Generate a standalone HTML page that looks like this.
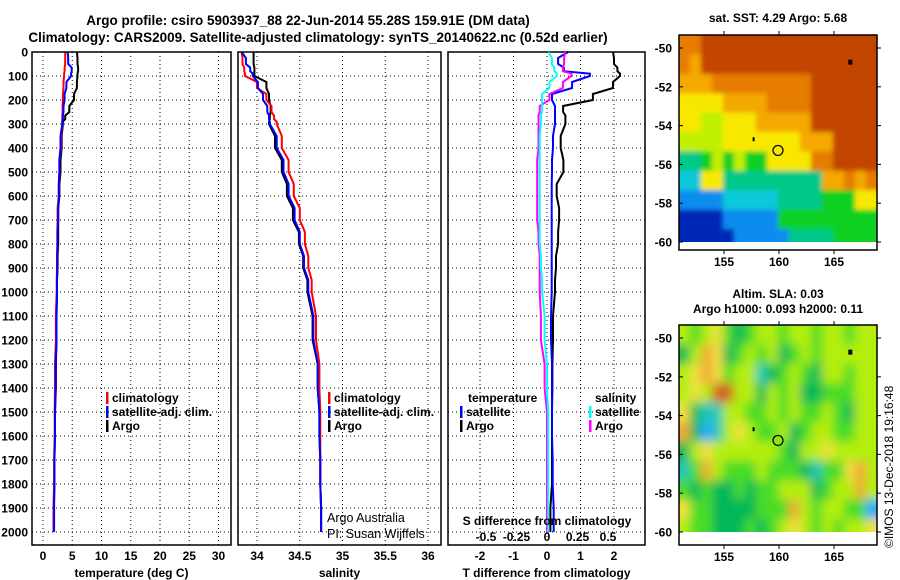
<!DOCTYPE html>
<html><head><meta charset="utf-8">
<style>
html,body{margin:0;padding:0;background:#fff;}
svg{display:block;font-family:"Liberation Sans",Arial,sans-serif;}
.b{font-weight:bold;font-size:12px;}
.t{font-weight:bold;font-size:13.5px;}
</style></head>
<body>
<svg id="fig" width="900" height="580" viewBox="0 0 900 580" xmlns="http://www.w3.org/2000/svg">
<text class="t" x="308" y="25" text-anchor="middle">Argo profile: csiro 5903937_88 22-Jun-2014 55.28S 159.91E (DM data)</text>
<text class="t" x="318" y="42" text-anchor="middle">Climatology: CARS2009. Satellite-adjusted climatology: synTS_20140622.nc (0.52d earlier)</text>
<text class="b" x="778" y="22" text-anchor="middle">sat. SST: 4.29 Argo: 5.68</text>
<text class="b" x="778" y="298" text-anchor="middle">Altim. SLA: 0.03</text>
<text class="b" x="778" y="313" text-anchor="middle">Argo h1000: 0.093 h2000: 0.11</text>
<text x="893" y="548" font-size="12" transform="rotate(-90 893 548)">©IMOS 13-Dec-2018 19:16:48</text>
<g id="layer"></g>
</svg>
<script>
// ---- profile data ----
const depths = [0,50,80,100,150,200,250,280,300,400,500,600,700,800,900,1000,1200,1400,1600,1800,2000];
const tClim = [3.8,3.8,3.7,3.6,3.5,3.4,3.35,3.3,3.3,3.1,2.8,2.7,2.5,2.45,2.4,2.35,2.2,2.05,2.0,1.9,1.8];
const tSat  = [4.2,4.3,4.9,4.8,4.0,3.7,3.5,3.4,3.3,3.0,2.8,2.7,2.6,2.5,2.45,2.4,2.3,2.15,2.05,1.95,1.9];
const tArgo = [5.8,5.9,6.0,5.9,5.8,5.3,4.5,3.8,3.4,3.2,3.0,2.8,2.6,2.6,2.5,2.4,2.3,2.2,2.05,1.95,1.85];
const sClim = [33.82,33.83,33.85,33.86,34.0,34.11,34.17,34.2,34.23,34.29,34.37,34.43,34.5,34.56,34.6,34.64,34.69,34.73,34.74,34.74,34.75];
const sSat  = [33.82,33.87,33.92,33.95,34.01,34.07,34.12,34.14,34.15,34.23,34.31,34.37,34.44,34.5,34.55,34.6,34.66,34.71,34.73,34.74,34.75];
const sArgo = [33.96,33.96,33.97,33.97,34.11,34.14,34.16,34.15,34.14,34.21,34.29,34.35,34.42,34.49,34.54,34.59,34.65,34.71,34.73,34.74,34.75];
const dTSat  = [0.63,0.33,0.5,1.28,0.75,0.15,0.24,0.24,0.24,0.18,0.15,0.14,0.14,0.14,0.14,0.14,0.12,0.15,0.15,0.17,0.2];
const dTArgo = [1.97,2.0,2.1,2.18,1.97,1.37,0.48,0.55,0.55,0.41,0.49,0.29,0.36,0.33,0.27,0.24,0.18,0.16,0.15,0.15,0.1];
const dSSat  = [0.01,0.04,0.06,0.08,0.02,-0.04,-0.04,-0.05,-0.05,-0.06,-0.06,-0.06,-0.06,-0.06,-0.05,-0.04,-0.02,0.0,0.01,0.01,0.01];
const dSArgo = [0.15,0.14,0.13,0.2,0.13,0.02,-0.06,-0.07,-0.07,-0.07,-0.08,-0.08,-0.08,-0.07,-0.06,-0.06,-0.05,-0.02,0.0,0.0,0.0];
const depthTicks = [0,100,200,300,400,500,600,700,800,900,1000,1100,1200,1300,1400,1500,1600,1700,1800,1900,2000];
const tTicks = [0,5,10,15,20,25,30];
const sTicks = [34,34.5,35,35.5,36];
const sTickLabels = ["34","34.5","35","35.5","36"];
const dtTicks = [-2,-1,0,1,2];
const dsTicks = [-0.5,-0.25,0,0.25,0.5];
const dsTickLabels = ["-0.5","-0.25","0","0.25","0.5"];

// ---- map data (category grids, 1 deg cells, 151E..169E, 49.3S..60S) ----
const sstGrid = [
"889999999999999999",
"879999999999999999",
"777888888888999999",
"666677778888999999",
"665566677777999999",
"555566666667779999",
"334545446666889999",
"226633333333377878",
"111122222333344466",
"000011111444444444",
"000001111133334444"];
const sstColors = ["#0028b8","#0a8cf0","#10c8d8","#00c888","#10d020","#c0f000","#f8e800","#f4a800","#e67c00","#c24400"];
const slaGrid = [
[1,0,1,2,0,-1,0,1,1,0,1,1,0,1,1,0,1,1],
[-1,1,3,2,-1,0,1,0,1,-1,0,1,0,1,1,1,1,1],
[1,2,3,2,0,1,1,-2,-1,0,1,0,-1,1,1,0,1,1],
[1,2,1,4,4,1,1,-1,1,0,1,-1,-1,0,0,0,1,1],
[2,-1,-2,-2,1,1,0,0,1,0,1,0,0,1,0,-1,1,1],
[3,-1,-3,-2,1,2,1,0,0,1,-1,0,1,1,0,0,1,1],
[-1,1,2,1,1,1,1,1,1,0,-1,1,1,2,1,1,1,1],
[-2,0,3,1,0,0,0,1,0,0,0,-1,-2,0,0,2,3,1],
[0,-1,0,-1,-1,0,-1,0,0,1,1,1,-1,0,1,1,3,1],
[2,0,0,-1,-1,-1,-1,0,0,0,3,1,0,1,1,0,0,-3],
[1,0,0,-1,-1,-1,0,-1,0,1,2,1,0,1,0,1,1,2]];
const slaColors = {"-3":"#2aa8ff","-2":"#20c8b8","-1":"#00b858","0":"#48dc28","1":"#b4ee10","2":"#f0e040","3":"#f0a838","4":"#d46420"};
const argoLon = 159.91, argoLat = -55.28;
const latTicks = [-50,-52,-54,-56,-58,-60];
const lonTicks = [155,160,165];

const NS="http://www.w3.org/2000/svg";
const layer=document.getElementById('layer');
function mk(tag,attrs,parent){const e=document.createElementNS(NS,tag);for(const k in attrs)e.setAttribute(k,attrs[k]);(parent||layer).appendChild(e);return e;}

const Y0=52, PXD=0.24, YB=545;
const yD=d=>Y0+d*PXD;

function panel(name,x0,x1,xf,ticks,labels,xtitle,series){
  const g=mk('g',{});
  
  
  ticks.forEach((v,i)=>{const gl=mk('line',{x1:xf(v),x2:xf(v),y1:Y0,y2:YB,stroke:'#000','stroke-width':1,'stroke-dasharray':'1 3'},g);
    
    });
  depthTicks.forEach(d=>{const gl=mk('line',{x1:x0,x2:x1,y1:yD(d),y2:yD(d),stroke:'#000','stroke-width':1,'stroke-dasharray':'1 3'},g);
    
    });
  series.forEach(s=>{
    let pts=[];
    s.vals.forEach((v,i)=>{const x=xf(v).toFixed(1);if(i>0)pts.push(x+','+yD(depths[i-1]+(depths[i]-depths[i-1])*0.5).toFixed(1));pts.push(x+','+yD(depths[i]).toFixed(1));});
    const pl=mk('polyline',{points:pts.join(' '),fill:'none',stroke:s.color,'stroke-width':2},g);
    
    
  });
  const fr=mk('rect',{x:x0,y:Y0,width:x1-x0,height:YB-Y0,fill:'none',stroke:'#000','stroke-width':1.5},g);
  
  
  if(labels){ticks.forEach((v,i)=>{const t=mk('text',{x:xf(v),y:560,'text-anchor':'middle',class:'b'},g);t.textContent=labels[i];
    
    });}
  const tt=mk('text',{x:(x0+x1)/2,y:577,'text-anchor':'middle',class:'b'},g);tt.textContent=xtitle;
  
  
  return g;
}
depthTicks.forEach(d=>{const t=mk('text',{x:28,y:yD(d)+4.5,'text-anchor':'end',class:'b'});t.textContent=d;
  
  });

const xT=v=>43+5.85*v;
panel('temperature-panel',32,231,xT,tTicks,tTicks.map(String),'temperature (deg C)',[
 {vals:tArgo,color:'#000',name:'temp-argo-line'},{vals:tClim,color:'#f00',name:'temp-climatology-line'},{vals:tSat,color:'#00f',name:'temp-satellite-line'}]);
const xS=v=>257+85.5*(v-34);
panel('salinity-panel',238,441,xS,sTicks,sTickLabels,'salinity',[
 {vals:sArgo,color:'#000',name:'sal-argo-line'},{vals:sClim,color:'#f00',name:'sal-climatology-line'},{vals:sSat,color:'#00f',name:'sal-satellite-line'}]);
const xDT=v=>547+33.5*v, xDS=v=>547+122*v;
const p3=panel('difference-panel',448,645,xDT,dtTicks,dtTicks.map(String),'T difference from climatology',[
 {vals:dTArgo,color:'#000',name:'dT-argo-line'},{vals:dTSat,color:'#00f',name:'dT-satellite-line'}]);
[[dSArgo,'#f0f','dS-argo-line'],[dSSat,'#0ff','dS-satellite-line']].forEach(([arr,c,n])=>{
  let pts=[];arr.forEach((v,i)=>{const x=xDS(v).toFixed(1);if(i>0)pts.push(x+','+yD((depths[i-1]+depths[i])/2).toFixed(1));pts.push(x+','+yD(depths[i]).toFixed(1));});
  const pl=mk('polyline',{points:pts.join(' '),fill:'none',stroke:c,'stroke-width':2},p3);
  
  
});
dsTicks.forEach((v,i)=>{const t=mk('text',{x:xDS(v),y:541,'text-anchor':'middle',class:'b'});t.textContent=dsTickLabels[i];
  
  });
const sdt=mk('text',{x:547,y:525,'text-anchor':'middle',class:'b'});sdt.textContent='S difference from climatology';



function legendEntry(x,y,color,label){
  const g=mk('g',{});
  
  
  mk('rect',{x:x,y:y-10,width:2.5,height:12,fill:color},g);
  const t=mk('text',{x:x+6,y:y,class:'b'},g);t.textContent=label;
}
legendEntry(106,402,'#f00','climatology');legendEntry(106,416,'#00f','satellite-adj. clim.');legendEntry(106,430,'#000','Argo');
legendEntry(328,402,'#f00','climatology');legendEntry(328,416,'#00f','satellite-adj. clim.');legendEntry(328,430,'#000','Argo');
const lt1=mk('text',{x:468,y:402,class:'b'});lt1.textContent='temperature';


const lt2=mk('text',{x:595,y:402,class:'b'});lt2.textContent='salinity';


legendEntry(460,416,'#00f','satellite');legendEntry(460,430,'#000','Argo');
legendEntry(589,416,'#0ff','satellite');legendEntry(589,430,'#f0f','Argo');
const a1=mk('text',{x:327,y:522,'font-size':'12.5'});a1.textContent='Argo Australia';


const a2=mk('text',{x:327,y:538,'font-size':'12.5'});a2.textContent='PI: Susan Wijffels';



// ---- maps ----
const defs=mk('defs',{});
function drawMap(name,top,frameBottom,grid,colorOf,blurStd){
  const L=679,R=877;
  const xL=lon=>779+(lon-160)*11;
  const yL=lat=>top+13+(-50-lat)*19.4;
  const cid='clip-'+name;
  const cp=mk('clipPath',{id:cid},defs);
  mk('rect',{x:L,y:top,width:R-L,height:yL(-60)-top},cp);
  const fid='blur-'+name;
  const f=mk('filter',{id:fid,x:'-10%',y:'-10%',width:'120%',height:'120%'},defs);
  mk('feGaussianBlur',{stdDeviation:blurStd},f);
  const g=mk('g',{});
  
  
  const clipG=mk('g',{'clip-path':'url(#'+cid+')'},g);
  const inner=mk('g',{filter:'url(#'+fid+')'},clipG);
  const latTop=-50+13/19.4;
  const nr=grid.length, nc=grid[0].length;
  // padded drawing: edge cells extended outward so blur does not fade
  for(let r=-2;r<nr+2;r++){
    const rr=Math.min(Math.max(r,0),nr-1);
    const row=grid[rr];
    const y0=yL(latTop-r), y1=yL(latTop-r-1);
    for(let c=-2;c<nc+2;c++){
      const cc=Math.min(Math.max(c,0),nc-1);
      const v=row[cc];
      const x0=xL(151+c-0.1);
      const cell=mk('rect',{x:x0.toFixed(1),y:y0.toFixed(1),width:11.3,height:(y1-y0+0.3).toFixed(1),fill:colorOf(v)},inner);
      
      
    }
  }
  const fr=mk('rect',{x:L,y:top,width:R-L,height:frameBottom-top,fill:'none',stroke:'#000','stroke-width':1.5},g);
  
  
  latTicks.forEach(la=>{const y=yL(la);mk('line',{x1:L,x2:L+4,y1:y,y2:y,stroke:'#000'},g);mk('line',{x1:R,x2:R+4,y1:y,y2:y,stroke:'#000'},g);
    const t=mk('text',{x:672,y:y+4.5,'text-anchor':'end',class:'b'},g);t.textContent=la;
    
    });
  lonTicks.forEach(lo=>{const x=xL(lo);mk('line',{x1:x,x2:x,y1:top,y2:top-4,stroke:'#000'},g);mk('line',{x1:x,x2:x,y1:frameBottom,y2:frameBottom+4,stroke:'#000'},g);
    const t=mk('text',{x:x,y:frameBottom+16,'text-anchor':'middle',class:'b'},g);t.textContent=lo;
    
    });
  const ci=mk('circle',{cx:xL(argoLon),cy:yL(argoLat),r:5,fill:'none',stroke:'#000','stroke-width':1.2},g);
  
  
  mk('rect',{x:xL(157.6),y:yL(-54.6),width:2,height:4,fill:'#000'},g);
  mk('rect',{x:xL(166.3),y:yL(-50.6),width:4,height:5,fill:'#000'},g);
}
drawMap('sst-map',35,250,sstGrid,v=>sstColors[+v],2.5);
drawMap('sla-map',325,545,slaGrid,v=>slaColors[String(v)],5);
</script>
</body></html>
